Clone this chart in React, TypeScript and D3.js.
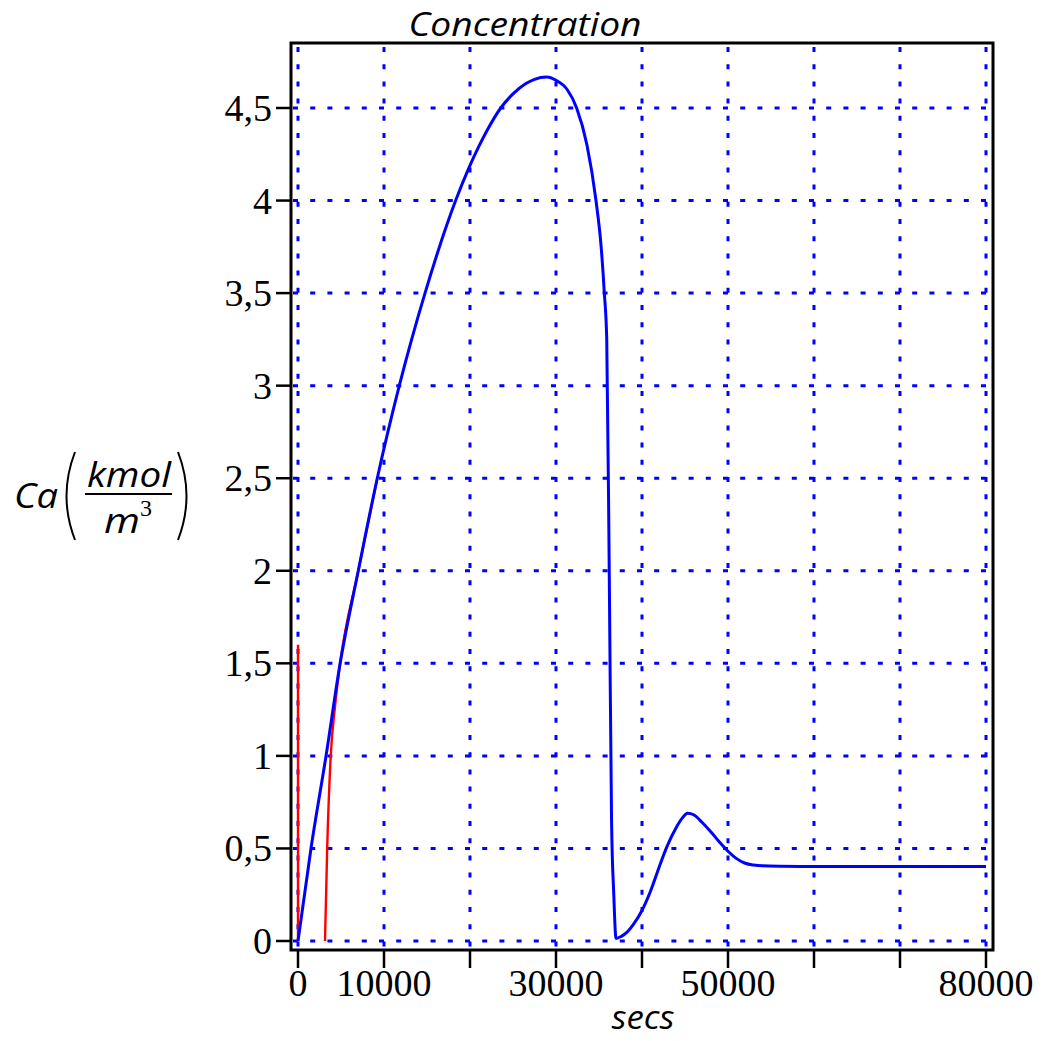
import React from "react";
import * as d3 from "d3";

// blue series: Ca vs time (secs)
const blueT = [0, 1510, 3260, 4900, 7010, 9220, 11780, 14770, 18330, 20000, 21000, 22000, 23570, 25000, 26500, 27500, 28920, 30000, 31300, 32400, 33600, 34650, 35250, 35620, 35900, 36200, 36460, 36720, 36980, 37600, 38200, 39000, 40000, 41000, 42000, 42900, 44000, 44700, 45300, 46000, 47000, 48000, 49000, 50000, 51000, 52000, 53000, 54000, 56000, 60000, 70000, 80000];
const blueCa = [0, 0.5, 1.0, 1.5, 2.0, 2.5, 3.0, 3.5, 4.0, 4.19, 4.29, 4.38, 4.5, 4.576, 4.632, 4.655, 4.667, 4.65, 4.6, 4.5, 4.3, 4.0, 3.75, 3.5, 3.25, 1.95, 0.65, 0.25, 0.014, 0.025, 0.045, 0.09, 0.165, 0.27, 0.4, 0.51, 0.615, 0.665, 0.69, 0.682, 0.64, 0.59, 0.535, 0.485, 0.445, 0.42, 0.41, 0.406, 0.404, 0.403, 0.403, 0.403];

// red series: two visible pieces, the second one runs under the blue
const redA_T = [0, 0];
const redA_Ca = [1.6, 0];
const redB_T = [3140, 3400, 3800, 4300, 4900, 7010, 9220];
const redB_Ca = [0, 0.51, 0.995, 1.265, 1.5, 2.0, 2.5];

const xTicks = [0, 10000, 20000, 30000, 40000, 50000, 60000, 70000, 80000];
const xLabels = ["0", "10000", "", "30000", "", "50000", "", "", "80000"];
const yTicks = [0, 0.5, 1, 1.5, 2, 2.5, 3, 3.5, 4, 4.5];
const yLabels = ["0", "0,5", "1", "1,5", "2", "2,5", "3", "3,5", "4", "4,5"];

const W = 1043, H = 1041;
const box = { left: 291, right: 993, top: 43, bottom: 950 };

export default function App() {
  const x = d3.scaleLinear().domain([0, 80000]).range([298, 986]);
  const y = d3.scaleLinear().domain([0, 4.5]).range([941, 108]);

  const smooth = d3.line<[number, number]>()
    .x(d => x(d[0]))
    .y(d => y(d[1]))
    .curve(d3.curveMonotoneX);
  const straight = d3.line<[number, number]>()
    .x(d => x(d[0]))
    .y(d => y(d[1]));

  const blue = blueT.map((t, i) => [t, blueCa[i]] as [number, number]);
  const redA = redA_T.map((t, i) => [t, redA_Ca[i]] as [number, number]);
  const redB = redB_T.map((t, i) => [t, redB_Ca[i]] as [number, number]);

  const num = "'Liberation Serif', serif";
  const ital = "'Open Sans', sans-serif";

  return (
    <svg width={W} height={H} style={{ position: "absolute", left: 0, top: 0, background: "#fff" }}>
      {/* grid */}
      <g stroke="#0000ff" strokeWidth={3} strokeDasharray="5 12.2">
        {xTicks.map(t => (
          <line key={"gx" + t} x1={x(t)} x2={x(t)} y1={box.top + 4} y2={box.bottom} />
        ))}
        {yTicks.map(t => (
          <line key={"gy" + t} x1={box.left + 2} x2={box.right} y1={y(t)} y2={y(t)} />
        ))}
      </g>

      {/* curves */}
      <path d={straight(redA) ?? ""} fill="none" stroke="#ff0000" strokeWidth={2.4} />
      <path d={smooth(redB) ?? ""} fill="none" stroke="#ff0000" strokeWidth={2.4} />
      <path d={smooth(blue) ?? ""} fill="none" stroke="#0000ff" strokeWidth={3} strokeLinejoin="round" />

      {/* frame */}
      <rect x={box.left} y={box.top} width={box.right - box.left} height={box.bottom - box.top}
        fill="none" stroke="#000" strokeWidth={3} />

      {/* ticks */}
      <g stroke="#000" strokeWidth={2.5}>
        {xTicks.map(t => (
          <line key={"tx" + t} x1={x(t)} x2={x(t)} y1={box.bottom} y2={box.bottom + 18} />
        ))}
        {yTicks.map(t => (
          <line key={"ty" + t} x1={box.left - 15} x2={box.left} y1={y(t)} y2={y(t)} />
        ))}
      </g>

      {/* tick labels */}
      <g fontFamily={num} fontSize={38} fill="#000">
        {xTicks.map((t, i) => xLabels[i] ? (
          <text key={"lx" + t} x={x(t)} y={996} textAnchor="middle">{xLabels[i]}</text>
        ) : null)}
        {yTicks.map((t, i) => (
          <text key={"ly" + t} x={272} y={y(t) + 13} textAnchor="end">{yLabels[i]}</text>
        ))}
      </g>

      {/* titles */}
      <text x={525} y={36} textAnchor="middle" fontFamily={ital} fontStyle="italic" fontSize={32}
        textLength={233} lengthAdjust="spacingAndGlyphs">Concentration</text>
      <text x={643} y={1029} textAnchor="middle" fontFamily={ital} fontStyle="italic" fontSize={32}
        textLength={63} lengthAdjust="spacingAndGlyphs">secs</text>

      {/* y label: Ca(kmol/m^3) */}
      <g fontFamily={ital} fontStyle="italic" fill="#000">
        <text x={14} y={508} fontSize={34} textLength={44} lengthAdjust="spacingAndGlyphs">Ca</text>
        <text x={129} y={487} fontSize={34} textAnchor="middle" textLength={84} lengthAdjust="spacingAndGlyphs">kmol</text>
        <text x={104} y={533} fontSize={34} textLength={36} lengthAdjust="spacingAndGlyphs">m</text>
        <text x={140} y={516} fontSize={24} fontStyle="normal" fontFamily={num}>3</text>
      </g>
      <line x1={85} x2={172} y1={494} y2={494} stroke="#000" strokeWidth={2} />
      <path d="M75,452 Q58,496 75,540" fill="none" stroke="#000" strokeWidth={2} />
      <path d="M178,452 Q195,496 178,540" fill="none" stroke="#000" strokeWidth={2} />
    </svg>
  );
}
